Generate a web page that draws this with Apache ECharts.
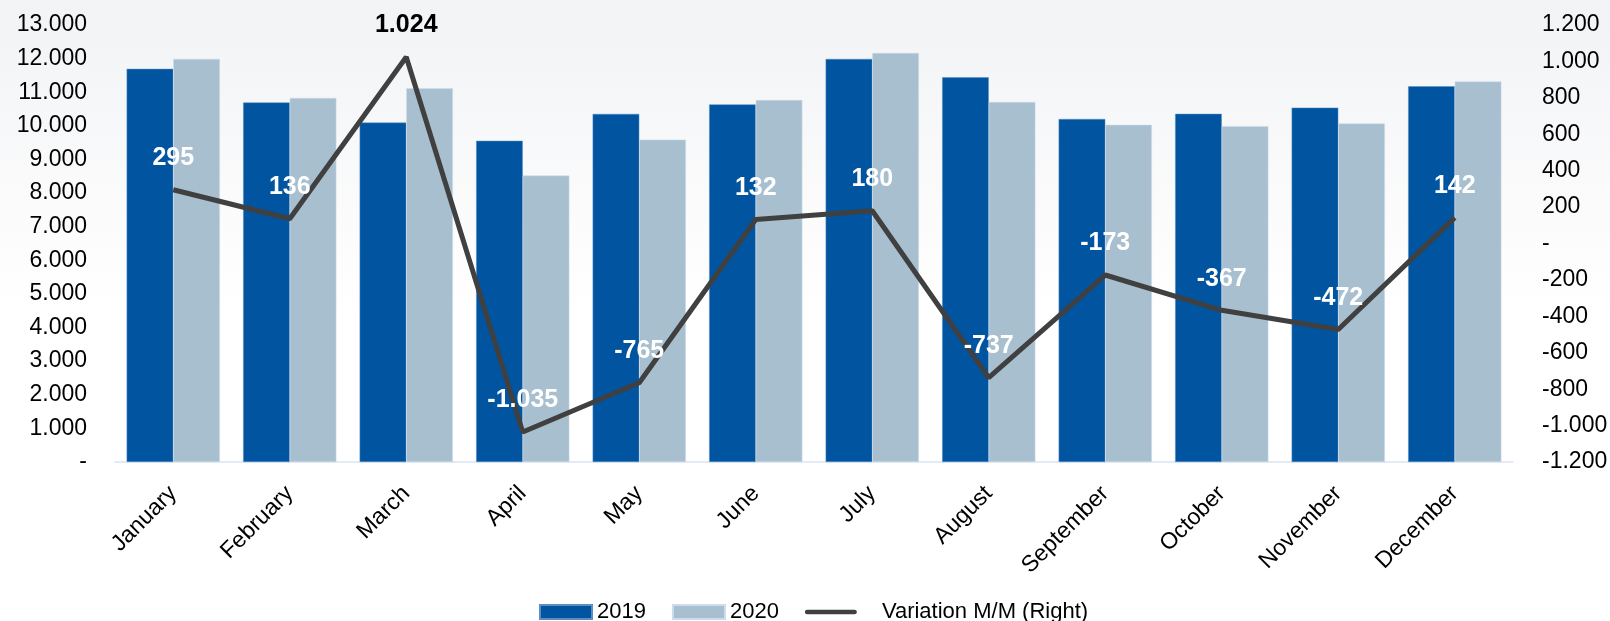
<!DOCTYPE html>
<html>
<head>
<meta charset="utf-8">
<script src="https://cdn.jsdelivr.net/npm/echarts@6/dist/echarts.min.js"></script>
<style>
  html, body { margin: 0; padding: 0; background: #fff; }
  #chart { width: 1610px; height: 621px; }
</style>
</head>
<body>
<div id="chart"></div>
<script>
var months = ['January','February','March','April','May','June','July','August','September','October','November','December'];
var sales2019 = [11695, 10695, 10096, 9555, 10355, 10638, 11990, 11447, 10203, 10357, 10542, 11177];
var sales2020 = [11990, 10831, 11120, 8520, 9590, 10770, 12170, 10710, 10030, 9990, 10070, 11319];
var variation = [295, 136, 1024, -1035, -765, 132, 180, -737, -173, -367, -472, 142];

function fmt(v) {
    if (v === 0) return '-';
    var s = Math.abs(v).toString().replace(/\B(?=(\d{3})+(?!\d))/g, '.');
    return (v < 0 ? '-' : '') + s;
}

var font = "'Liberation Sans', Arial, sans-serif";
var chart = echarts.init(document.getElementById('chart'));

var option = {
    backgroundColor: new echarts.graphic.LinearGradient(0, 0, 0, 1, [
        { offset: 0, color: '#f2f3f5' },
        { offset: 0.5, color: '#ffffff' },
        { offset: 1, color: '#ffffff' }
    ]),
    textStyle: { fontFamily: font },
    animation: false,
    grid: {
        left: 115,
        right: 97,
        top: 25,
        bottom: 159,
        containLabel: false,
        outerBoundsMode: 'none'
    },
    legend: {
        left: 534,
        top: 596,
        itemWidth: 52,
        itemHeight: 14,
        itemGap: 26,
        textStyle: { fontFamily: font, fontSize: 22, color: '#000' },
        data: [
            { name: '2019', icon: 'rect' },
            { name: '2020', icon: 'rect' },
            {
                name: 'Variation M/M (Right)',
                icon: 'path://M2.5,0 L53.5,0 A2.5,2.5 0 0 1 53.5,5 L2.5,5 A2.5,2.5 0 0 1 2.5,0 Z',
                textStyle: { padding: [0, 0, 0, 20] }
            }
        ]
    },
    xAxis: [{
        type: 'category',
        data: months,
        axisLine: { lineStyle: { color: '#e3ebf5', width: 2 } },
        axisTick: { show: false },
        axisLabel: {
            rotate: 45,
            interval: 0,
            margin: 28,
            fontSize: 23,
            color: '#000',
            fontFamily: font
        }
    }],
    yAxis: [
        {
            type: 'value',
            min: 0,
            max: 13000,
            interval: 1000,
            splitLine: { show: false },
            axisLine: { show: false },
            axisTick: { show: false },
            axisLabel: {
                formatter: fmt,
                fontSize: 23,
                color: '#000',
                margin: 28,
                fontFamily: font
            }
        },
        {
            type: 'value',
            min: -1200,
            max: 1200,
            interval: 200,
            splitLine: { show: false },
            axisLine: { show: false },
            axisTick: { show: false },
            axisLabel: {
                formatter: fmt,
                fontSize: 23,
                color: '#000',
                margin: 29,
                fontFamily: font
            }
        }
    ],
    series: [
        {
            name: '2019',
            type: 'bar',
            data: sales2019,
            barGap: '0%',
            barCategoryGap: '20%',
            itemStyle: { color: '#0054a0', borderColor: '#5a8fc4', borderWidth: 0.5 }
        },
        {
            name: '2020',
            type: 'bar',
            data: sales2020,
            barGap: '0%',
            barCategoryGap: '20%',
            itemStyle: { color: '#a8bfcf', borderColor: '#cddceb', borderWidth: 0.5 }
        },
        {
            name: 'Variation M/M (Right)',
            type: 'line',
            yAxisIndex: 1,
            symbol: 'circle',
            symbolSize: 0.1,
            showSymbol: true,
            z: 5,
            lineStyle: { color: '#404040', width: 5 },
            itemStyle: { color: '#404040' },
            data: variation.map(function (v, i) {
                return i === 2 ? { value: v, label: { color: '#000' } } : v;
            }),
            label: {
                show: true,
                position: 'top',
                distance: 19,
                fontSize: 25,
                fontWeight: 'bold',
                color: '#fff',
                fontFamily: font,
                formatter: function (p) { return fmt(p.value); }
            }
        }
    ]
};

chart.setOption(option, true);
</script>
</body>
</html>
